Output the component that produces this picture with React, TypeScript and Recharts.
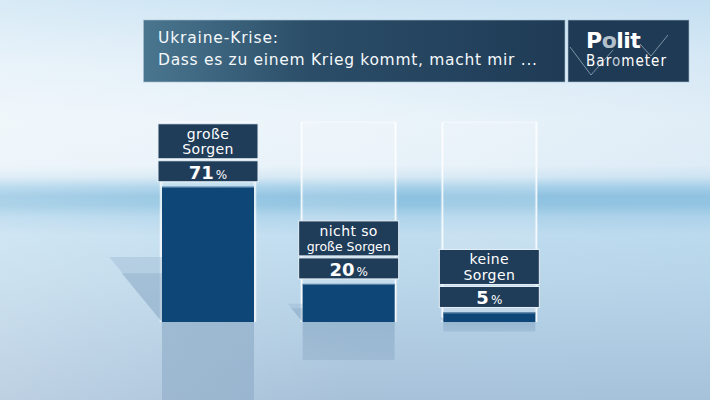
import React from "react";
import { BarChart, Bar, XAxis, YAxis } from "recharts";

const categories = ["große\nSorgen", "nicht so\ngroße Sorgen", "keine\nSorgen"];
const values = [71, 20, 5];
const titleLines = ["Ukraine-Krise:", "Dass es zu einem Krieg kommt, macht mir ..."];
const logoTop = ["P", "o", "lit"];
const logoBottom = ["Bar", "o", "meter"];

const data = categories.map((c, i) => ({ name: c, value: values[i] }));

const FONT = "'DejaVu Sans', 'Noto Sans', sans-serif";
const FONT_C = "'DejaVu Sans Condensed', 'DejaVu Sans', sans-serif";
const BAR = "#0e4677";
const BOX = "#1f3c59";

const Ghost = (p: any) => {
  const { x, y, width, height } = p;
  return (
    <g>
      <rect x={x - 1} y={y} width={width + 2} height={height} fill="#ffffff" fillOpacity={0.16} />
      <line x1={x - 1} y1={y} x2={x + width + 1} y2={y} stroke="#ffffff" strokeOpacity={0.6} strokeWidth={1} />
      <line x1={x - 1} y1={y} x2={x - 1} y2={y + height} stroke="#ffffff" strokeOpacity={0.35} strokeWidth={3} />
      <line x1={x - 1} y1={y} x2={x - 1} y2={y + height} stroke="#ffffff" strokeOpacity={0.9} strokeWidth={1} />
      <line x1={x + width + 1} y1={y} x2={x + width + 1} y2={y + height} stroke="#ffffff" strokeOpacity={0.35} strokeWidth={3} />
      <line x1={x + width + 1} y1={y} x2={x + width + 1} y2={y + height} stroke="#ffffff" strokeOpacity={0.9} strokeWidth={1} />
    </g>
  );
};

const BarShape = (p: any) => {
  const { x, y, width, height, payload } = p;
  const bottom = y + height;
  const bx = x - 4;
  const bw = width + 8;
  const nameTop = y - 63;
  const pctTop = y - 26;
  const lines = String(payload.name).split("\n");
  const cx = x + width / 2;
  return (
    <g>
      <polygon
        points={`${x - 0.39 * height},${bottom - 0.48 * height} ${x},${bottom - 0.48 * height} ${x},${bottom}`}
        fill="#8aa9c6"
        fillOpacity={0.3}
      />
      <polygon
        points={`${x - 0.3 * height},${bottom - 0.36 * height} ${x},${bottom - 0.36 * height} ${x},${bottom}`}
        fill="#7f9fbd"
        fillOpacity={0.3}
      />
      <rect x={x} y={bottom} width={width} height={height} fill="url(#refl)" />
      <rect x={x} y={y} width={width} height={height} fill={BAR} />
      <line x1={x} y1={y + 0.5} x2={x + width} y2={y + 0.5} stroke="#5f88ad" strokeWidth={1} />
      <rect x={bx} y={nameTop} width={bw} height={35} fill={BOX} stroke="#e6f0f7" strokeWidth={1} />
      <rect x={bx} y={pctTop} width={bw} height={21} fill={BOX} stroke="#e6f0f7" strokeWidth={1} />
      {lines.map((l, i) => (
        <text
          key={i}
          x={cx}
          y={nameTop + 15 + i * 15.5}
          textAnchor="middle"
          fill="#ffffff"
          fontFamily={FONT}
          fontSize={l.length > 9 ? 12.5 : 14}
          letterSpacing={l.length > 9 ? 0 : 0.4}
        >
          {l}
        </text>
      ))}
      <text x={cx} y={pctTop + 18} textAnchor="middle" fill="#ffffff" fontFamily={FONT}>
        <tspan fontSize={18} fontWeight="bold">{payload.value}</tspan>
        <tspan fontSize={12} dx={2}>%</tspan>
      </text>
    </g>
  );
};

export default function App() {
  return (
    <div
      style={{
        position: "absolute",
        left: 0,
        top: 0,
        width: 710,
        height: 400,
        overflow: "hidden",
        background:
          "linear-gradient(to bottom, #cae3f3 0px, #e0eef8 60px, #ebf4fa 120px, #e8f2f9 165px, #d5e8f4 177px, #a6d0e9 187px, #8dc1e0 196px, #91c4e1 205px, #afd4eb 217px, #c0ddef 235px, #bbd7ea 280px, #b1cce2 340px, #a7c1d9 400px)",
      }}
    >
      <div
        style={{
          position: "absolute",
          left: 0,
          top: 0,
          width: 710,
          height: 400,
          background: "linear-gradient(to right, rgba(255,255,255,0.25), rgba(255,255,255,0) 50%, rgba(160,200,230,0.15))",
        }}
      />
      <div style={{ position: "absolute", left: 0, top: 0 }}>
        <BarChart width={710} height={400} data={data} margin={{ top: 122, right: 150, bottom: 78, left: 138 }}>
          <defs>
            <linearGradient id="refl" x1="0" y1="0" x2="0" y2="1">
              <stop offset="0" stopColor="#6f91b3" stopOpacity={0.4} />
              <stop offset="1" stopColor="#6f91b3" stopOpacity={0.25} />
            </linearGradient>
          </defs>
          <XAxis dataKey="name" hide />
          <YAxis hide domain={[0, 105]} />
          <Bar
            dataKey="value"
            barSize={92}
            isAnimationActive={false}
            background={(p: any) => <Ghost key={`g${p.index}`} {...p} />}
            shape={(p: any) => <BarShape {...p} />}
          />
        </BarChart>
      </div>
      <svg width={710} height={400} style={{ position: "absolute", left: 0, top: 0 }}>
        <defs>
          <linearGradient id="hdr" x1="0" y1="0" x2="1" y2="0">
            <stop offset="0" stopColor="#4a7690" />
            <stop offset="0.4" stopColor="#2b4d67" />
            <stop offset="1" stopColor="#1f3b56" />
          </linearGradient>
        </defs>
        <rect x={143.5} y={20} width={421.5} height={62} fill="url(#hdr)" stroke="#a9c2d3" strokeOpacity={0.6} strokeWidth={1} />
        <text x={158} y={43} fill="#f4f8fb" fontFamily={FONT} fontSize={15.5} textLength={120} lengthAdjust="spacing">
          {titleLines[0]}
        </text>
        <text x={158} y={65} fill="#f4f8fb" fontFamily={FONT} fontSize={15.5} textLength={379} lengthAdjust="spacing">
          {titleLines[1]}
        </text>
        <rect x={568} y={20} width={121} height={62} fill="#1f3a55" stroke="#a9c2d3" strokeOpacity={0.6} strokeWidth={1} />
        <polyline points="570,47 591,75 613,50" fill="none" stroke="#7d92a6" strokeWidth={1} />
        <polyline points="640,44 651,56 668,35" fill="none" stroke="#7d92a6" strokeWidth={1} />
        <text x={586} y={48} fontFamily={FONT} fontSize={22} fontWeight="bold" fill="#ffffff" letterSpacing={-0.5}>
          <tspan>{logoTop[0]}</tspan>
          <tspan fill="#b3c0cc">{logoTop[1]}</tspan>
          <tspan>{logoTop[2]}</tspan>
        </text>
        <text x={586} y={66} fontFamily={FONT_C} fontSize={15} fill="#ffffff" textLength={80} lengthAdjust="spacing">
          <tspan>{logoBottom[0]}</tspan>
          <tspan fill="#c4ced8">{logoBottom[1]}</tspan>
          <tspan>{logoBottom[2]}</tspan>
        </text>
      </svg>
    </div>
  );
}
